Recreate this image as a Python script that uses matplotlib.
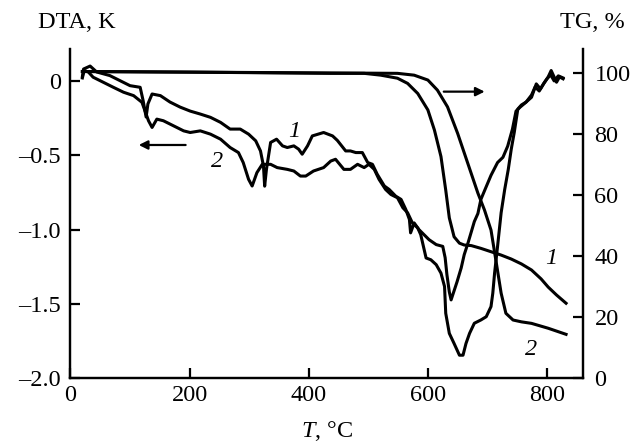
import matplotlib
matplotlib.use("Agg")
import matplotlib.pyplot as plt

# DTA curves (temperature, K)
dta1_t = [20, 22, 33, 44, 66, 83, 100, 117, 122, 127, 130, 137, 151, 167, 184, 201,
          218, 235, 252, 268, 285, 299, 311, 319, 324, 326, 329, 336, 346, 356, 364,
          375, 383, 389, 398, 406, 425, 440, 448, 462, 470, 479, 490, 499, 507, 515,
          527, 535, 546, 555, 563, 569, 571, 577, 585, 595, 602, 614, 625, 629, 632,
          636, 639, 644, 649, 656, 661, 667, 673, 678, 684, 689, 696, 706, 717, 726,
          734, 742, 748, 755, 763, 774, 782, 789, 796, 802, 807, 816, 821, 827]
dta1_v = [0.03, 0.08, 0.10, 0.06, 0.036, 0.002, -0.032, -0.043, -0.133, -0.243, -0.155,
          -0.088, -0.099, -0.142, -0.176, -0.203, -0.223, -0.245, -0.279, -0.324, -0.324,
          -0.358, -0.403, -0.471, -0.572, -0.708, -0.595, -0.414, -0.392, -0.437, -0.448,
          -0.437, -0.459, -0.493, -0.437, -0.37, -0.347, -0.37, -0.40, -0.471, -0.471,
          -0.482, -0.482, -0.549, -0.561, -0.628, -0.707, -0.730, -0.775, -0.797, -0.865,
          -0.932, -1.022, -0.955, -1.0, -1.04, -1.068, -1.101, -1.113, -1.189, -1.304,
          -1.419, -1.473, -1.412, -1.351, -1.257, -1.169, -1.095, -1.014, -0.946, -0.892,
          -0.797, -0.730, -0.635, -0.549, -0.514, -0.439, -0.324, -0.203, -0.176, -0.149,
          -0.110, -0.020, -0.054, -0.009, 0.027, 0.070, -0.009, 0.027, 0.014]

dta2_t = [20, 23, 30, 38, 55, 72, 89, 106, 120, 131, 137, 145, 156, 173, 190, 201, 218,
          235, 252, 268, 282, 290, 299, 305, 313, 322, 336, 347, 364, 375, 386, 395, 408,
          425, 437, 445, 459, 470, 482, 493, 501, 510, 518, 529, 538, 549, 558, 566, 574,
          583, 588, 597, 605, 614, 622, 628, 630, 636, 644, 653, 659, 664, 670, 678, 689,
          698, 706, 709, 712, 717, 723, 729, 735, 740, 745, 751, 757, 765, 774, 780, 787,
          794, 800, 806, 812, 819, 827]
dta2_v = [0.02, 0.07, 0.06, 0.025, -0.009, -0.043, -0.076, -0.099, -0.144, -0.268, -0.313,
          -0.257, -0.268, -0.302, -0.336, -0.347, -0.336, -0.358, -0.392, -0.448, -0.482,
          -0.549, -0.662, -0.707, -0.617, -0.561, -0.561, -0.583, -0.595, -0.606, -0.64,
          -0.64, -0.606, -0.583, -0.539, -0.527, -0.595, -0.595, -0.561, -0.583, -0.561,
          -0.595, -0.662, -0.730, -0.764, -0.786, -0.853, -0.887, -0.955, -0.989, -1.034,
          -1.191, -1.203, -1.236, -1.293, -1.383, -1.563, -1.698, -1.766, -1.845, -1.845,
          -1.766, -1.698, -1.630, -1.608, -1.586, -1.518, -1.428, -1.293, -1.113, -0.887,
          -0.730, -0.595, -0.459, -0.347, -0.189, -0.162, -0.142, -0.095, -0.041, -0.068,
          -0.020, 0.014, 0.041, 0.0, 0.034, 0.020]

# TG curves (mass, %)
tg1_t = [20, 200, 437, 493, 521, 549, 566, 583, 600, 611, 622, 630, 636, 644, 653, 661,
         673, 689, 706, 723, 740, 757, 774, 790, 802, 816, 832]
tg1_m = [100.6, 100.4, 100.0, 100.0, 99.4, 98.4, 96.7, 93.4, 88.0, 81.4, 72.7, 61.7, 52.6,
         46.4, 44.3, 43.7, 43.5, 42.6, 41.5, 40.4, 39.1, 37.5, 35.5, 32.6, 29.9, 27.3, 24.6]

tg2_t = [20, 200, 549, 577, 600, 616, 633, 650, 667, 684, 695, 706, 715, 723, 731, 743,
         757, 774, 802, 832]
tg2_m = [100.6, 100.4, 100.0, 99.4, 97.8, 94.5, 89.0, 80.3, 70.5, 60.7, 55.2, 48.6, 37.7,
         27.9, 21.3, 19.1, 18.5, 18.0, 16.4, 14.4]

x_ticks = [0, 200, 400, 600, 800]
dta_ticks = [0, -0.5, -1.0, -1.5, -2.0]
dta_labels = ["0", "\u20130.5", "\u20131.0", "\u20131.5", "\u20132.0"]
tg_ticks = [0, 20, 40, 60, 80, 100]

plt.rcParams["font.family"] = ["Liberation Serif", "DejaVu Serif"]
plt.rcParams["mathtext.fontset"] = "custom"
plt.rcParams["mathtext.it"] = "Liberation Serif:italic"
plt.rcParams["mathtext.rm"] = "Liberation Serif"
fs = 17.5

fig = plt.figure(figsize=(6.32, 4.45), dpi=100)
ax = fig.add_axes([0.1115, 0.150, 0.8115, 0.740])
ax2 = ax.twinx()

lw = 2.2
ax.plot(dta1_t, dta1_v, color="black", lw=lw, solid_joinstyle="round")
ax.plot(dta2_t, dta2_v, color="black", lw=lw, solid_joinstyle="round")
ax2.plot(tg1_t, tg1_m, color="black", lw=lw)
ax2.plot(tg2_t, tg2_m, color="black", lw=lw)

ax.set_xlim(0, 861)
ax.set_ylim(-2.0, 0.215)
ax2.set_ylim(0, 108)

ax.set_xticks(x_ticks)
ax.set_yticks(dta_ticks)
ax.set_yticklabels(dta_labels)
ax2.set_yticks(tg_ticks)

for a in (ax, ax2):
    a.spines["top"].set_visible(False)
    for s in a.spines.values():
        s.set_linewidth(1.6)
ax.tick_params(axis="x", direction="in", length=7, width=1.6, labelsize=fs, pad=5)
ax.tick_params(axis="y", direction="in", length=7, width=1.6, labelsize=fs, pad=7)
ax2.tick_params(axis="y", direction="in", length=7, width=1.6, labelsize=fs, pad=8)

ax.set_xlabel("$T$, \u00b0C", fontsize=fs, labelpad=9)
fig.text(38 / 632, 1 - 22 / 445, "DTA, K", fontsize=fs, ha="left", va="center")
fig.text(625 / 632, 1 - 22 / 445, "TG, %", fontsize=fs, ha="right", va="center")

# direction arrows
ax.annotate("", xy=(110, -0.431), xytext=(198, -0.431),
            arrowprops=dict(arrowstyle="-|>", color="black", lw=1.6, mutation_scale=13))
ax2.annotate("", xy=(700, 94.0), xytext=(622, 94.0),
             arrowprops=dict(arrowstyle="-|>", color="black", lw=1.6, mutation_scale=13))

# curve labels
ax.text(375, -0.338, "1", fontsize=fs, style="italic", ha="center", va="center")
ax.text(246, -0.539, "2", fontsize=fs, style="italic", ha="center", va="center")
ax2.text(807, 39.3, "1", fontsize=fs, style="italic", ha="center", va="center")
ax2.text(774, 9.3, "2", fontsize=fs, style="italic", ha="center", va="center")

fig.savefig("out.png", dpi=100)
